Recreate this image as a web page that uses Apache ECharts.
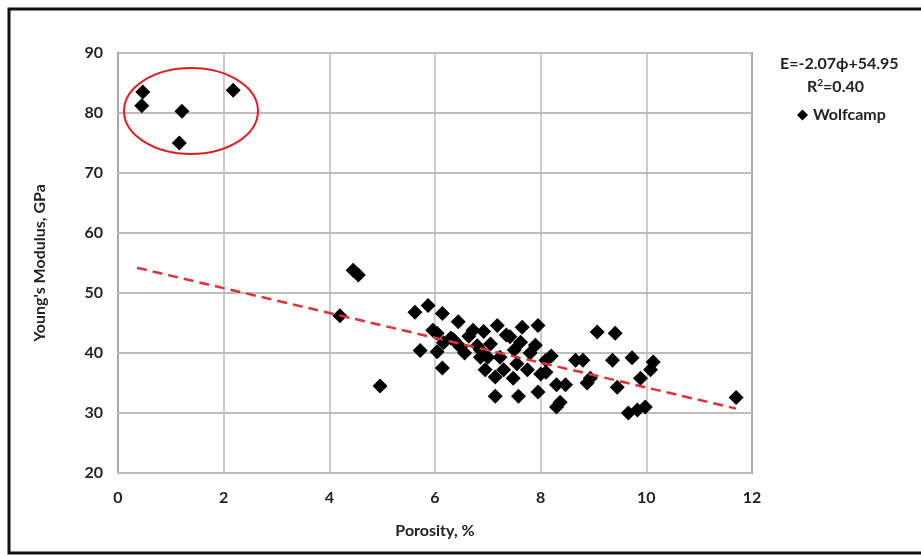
<!DOCTYPE html>
<html><head><meta charset="utf-8">
<script src="https://cdn.jsdelivr.net/npm/echarts@6/dist/echarts.min.js"></script>
<style>html,body{margin:0;padding:0;background:#fff}#c{width:921px;height:555px}</style>
</head><body><div id="c"></div>
<script>
// Porosity (%) values of Wolfcamp samples
const porosity = [0.47,0.45,1.21,1.16,2.18,
  4.2,4.45,4.55,4.96,
  5.62,5.72,5.87,5.96,6.04,6.04,6.14,6.16,6.14,6.30,6.35,6.44,6.48,6.56,6.64,6.72,6.80,6.86,6.86,6.95,6.92,7.0,7.05,7.18,7.14,7.14,7.23,7.3,7.35,7.42,7.48,7.5,7.55,7.58,7.65,7.62,7.75,7.8,7.9,7.95,7.95,8.0,8.1,8.1,8.2,8.3,8.3,8.37,8.47,8.66,8.8,8.88,8.94,9.07,9.36,9.41,9.45,9.66,9.73,9.83,9.89,9.98,10.08,10.13,11.7];
// Young's modulus (GPa)
const modulus = [83.5,81.2,80.3,75.0,83.8,
  46.2,53.8,53.0,34.5,
  46.8,40.4,47.9,43.8,43.3,40.2,46.6,41.7,37.5,42.5,42.2,45.2,41.0,40.0,42.8,43.8,41.2,40.5,39.3,37.2,43.6,39.3,41.5,44.6,36.0,32.8,39.3,37.2,43.0,42.7,35.8,40.5,38.2,32.8,44.3,41.8,37.2,40.0,41.3,44.6,33.5,36.5,38.8,36.8,39.5,34.7,31.0,31.8,34.7,38.8,38.8,35.0,35.8,43.5,38.8,43.3,34.3,30.0,39.2,30.5,35.8,31.0,37.2,38.5,32.6];
const trendSlope = -2.07, trendIntercept = 54.95;
const trendRange = [0.36, 11.7];
const xTicks = [0,2,4,6,8,10,12];
const yTicks = [20,30,40,50,60,70,80,90];

const pts = porosity.map((x,i)=>[x, modulus[i]]);
const trend = trendRange.map(x=>[x, trendSlope*x+trendIntercept]);
const F = 'Lato, "Open Sans", sans-serif';
const chart = echarts.init(document.getElementById('c'));
chart.setOption({
  animation:false,
  backgroundColor:'#fff',
  grid:{left:118,right:169,top:53,bottom:82,show:true,borderColor:'#444',borderWidth:1.5,backgroundColor:'transparent'},
  xAxis:{type:'value',min:xTicks[0],max:xTicks[xTicks.length-1],interval:2,
    axisLine:{show:false},axisTick:{show:false},
    splitLine:{lineStyle:{color:'#bdbdbd',width:1.5}},
    axisLabel:{color:'#222',fontFamily:F,fontWeight:'bold',fontSize:16,margin:17},
    name:'Porosity, %',nameLocation:'middle',nameGap:50,
    nameTextStyle:{color:'#222',fontFamily:F,fontWeight:'bold',fontSize:16}},
  yAxis:{type:'value',min:yTicks[0],max:yTicks[yTicks.length-1],interval:10,
    axisLine:{show:false},axisTick:{show:false},
    splitLine:{lineStyle:{color:'#bdbdbd',width:2}},
    axisLabel:{color:'#222',fontFamily:F,fontWeight:'bold',fontSize:16,margin:15},
    name:"Young's Modulus, GPa",nameLocation:'middle',nameGap:70,
    nameTextStyle:{color:'#222',fontFamily:F,fontWeight:'bold',fontSize:16}},
  legend:{show:true,left:792,top:102,itemWidth:11,itemHeight:11,itemGap:4,
    textStyle:{color:'#222',fontFamily:F,fontWeight:'bold',fontSize:16},
    data:[{name:'Wolfcamp',icon:'diamond'}]},
  graphic:[
    {type:'rect',shape:{x:9,y:9,width:930,height:544},style:{fill:'none',stroke:'#111',lineWidth:3},z:100},
    {type:'text',left:780,top:56,style:{text:'E=-2.07ϕ+54.95',font:'bold 16px Lato, "Open Sans", sans-serif',fill:'#222'}},
    {type:'text',left:807,top:78,style:{rich:{a:{font:'bold 16px Lato, sans-serif',fill:'#222'},s:{font:'bold 10px Lato, sans-serif',fill:'#222',verticalAlign:'top',padding:[0,0,7,0]}},text:'{a|R}{s|2}{a|=0.40}'}},
    {type:'ellipse',shape:{cx:191,cy:111,rx:67,ry:43},style:{fill:'none',stroke:'#e02020',lineWidth:2},z:50}
  ],
  series:[
    {name:'Wolfcamp',type:'scatter',data:pts,symbol:'diamond',symbolSize:15,
      itemStyle:{color:'#000',opacity:1},z:3},
    {name:'trend',type:'line',data:trend,showSymbol:false,symbol:'none',
      lineStyle:{color:'#e0303a',width:2.5,type:[10,6]},z:4,silent:true}
  ]
});
</script></body></html>
